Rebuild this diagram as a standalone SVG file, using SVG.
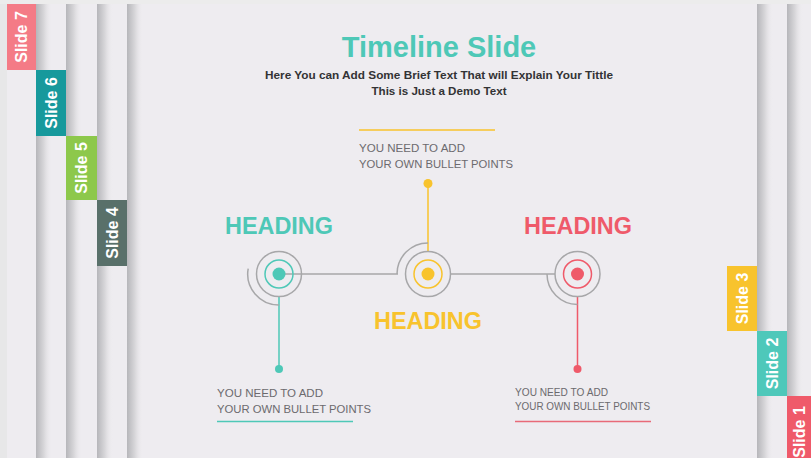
<svg xmlns="http://www.w3.org/2000/svg" width="811" height="458" viewBox="0 0 811 458">
<defs>
<linearGradient id="sh" x1="0" y1="0" x2="1" y2="0">
<stop offset="0" stop-color="#b6b6ba"/>
<stop offset="0.5" stop-color="#d8d7da"/>
<stop offset="1" stop-color="#eeecef" stop-opacity="0"/>
</linearGradient>
<style>
.panel{fill:#eeecf0}
.tabt{font-family:"Liberation Sans",Arial,sans-serif;font-weight:bold;font-size:16px;fill:#ffffff}
.gray{fill:none;stroke:#a7a7a9;stroke-width:1.5}
.head{font-family:"Liberation Sans",Arial,sans-serif;font-weight:bold;font-size:23px}
.bt{font-family:"Liberation Sans",Arial,sans-serif;font-size:11.5px;fill:#6c6a6e}
.sub{font-family:"Liberation Sans",Arial,sans-serif;font-weight:bold;font-size:11.5px;fill:#333335}
</style>
</defs>
<rect width="811" height="458" fill="#e7e7e8"/>
<rect width="811" height="4" fill="#ececec"/>
<g id="panels">
<rect class="panel" x="7" y="4" width="804" height="454"/>
<rect x="36" y="4" width="16" height="454" fill="url(#sh)"/>
<rect x="66" y="4" width="16" height="454" fill="url(#sh)"/>
<rect x="97" y="4" width="16" height="454" fill="url(#sh)"/>
<rect x="127" y="4" width="16" height="454" fill="url(#sh)"/>
<rect class="panel" x="142" y="4" width="615" height="454" fill="#f0eef1"/>
<rect x="757" y="4" width="16" height="454" fill="url(#sh)"/>
<rect x="787" y="4" width="16" height="454" fill="url(#sh)"/>
</g>
<g id="tab7"><rect x="7" y="4" width="29" height="66" fill="#f47b86"/><text class="tabt" transform="translate(27,37) rotate(-90)" text-anchor="middle">Slide 7</text></g>
<g id="tab6"><rect x="36" y="70" width="30" height="66" fill="#17999c"/><text class="tabt" transform="translate(57,103) rotate(-90)" text-anchor="middle">Slide 6</text></g>
<g id="tab5"><rect x="66" y="136" width="31" height="64" fill="#8dc84b"/><text class="tabt" transform="translate(87,168) rotate(-90)" text-anchor="middle">Slide 5</text></g>
<g id="tab4"><rect x="97" y="200" width="30" height="66" fill="#59706a"/><text class="tabt" transform="translate(118,233) rotate(-90)" text-anchor="middle">Slide 4</text></g>
<g id="tab3"><rect x="727" y="266" width="30" height="65" fill="#f8c32d"/><text class="tabt" transform="translate(748,298.5) rotate(-90)" text-anchor="middle">Slide 3</text></g>
<g id="tab2"><rect x="757" y="331" width="30" height="65" fill="#4ec8ba"/><text class="tabt" transform="translate(778,363.5) rotate(-90)" text-anchor="middle">Slide 2</text></g>
<g id="tab1"><rect x="787" y="396" width="24" height="62" fill="#ef5a6a"/><text class="tabt" transform="translate(805,432) rotate(-90)" text-anchor="middle">Slide 1</text></g>
<g id="title">
<text x="439" y="57" text-anchor="middle" font-family="Liberation Sans,Arial,sans-serif" font-weight="bold" font-size="29" fill="#4ec8b7">Timeline Slide</text>
<text class="sub" x="439" y="79" text-anchor="middle" textLength="348" lengthAdjust="spacingAndGlyphs">Here You can Add Some Brief Text That will Explain Your Tittle</text>
<text class="sub" x="439" y="95" text-anchor="middle" textLength="135" lengthAdjust="spacingAndGlyphs">This is Just a Demo Text</text>
</g>
<g id="connectors">
<line x1="285" y1="274" x2="398" y2="274" stroke="#a7a7a9" stroke-width="1.5"/>
<line x1="450" y1="274" x2="555" y2="274" stroke="#a7a7a9" stroke-width="1.5"/>
<line x1="279" y1="296" x2="279" y2="369" stroke="#4ec8b7" stroke-width="1.5"/>
<line x1="428" y1="183" x2="428" y2="252" stroke="#f8c32d" stroke-width="1.5"/>
<line x1="577.5" y1="296" x2="577.5" y2="369" stroke="#ef5a6a" stroke-width="1.5"/>
</g>
<g id="node-teal">
<circle class="gray" cx="279" cy="274" r="22.5"/>
<path class="gray" d="M248.2 268.6 A31 31 0 0 0 279 305"/>
<circle cx="279" cy="274" r="14" fill="none" stroke="#4ec8b7" stroke-width="1.5"/>
<circle cx="279" cy="274" r="6.5" fill="#4ec8b7"/>
<circle cx="279" cy="369" r="4" fill="#4ec8b7"/>
<text class="head" x="225" y="234" fill="#4ec8b7" textLength="108" lengthAdjust="spacingAndGlyphs">HEADING</text>
<text class="bt" x="217" y="397" textLength="106" lengthAdjust="spacingAndGlyphs">YOU NEED TO ADD</text>
<text class="bt" x="217" y="413" textLength="154" lengthAdjust="spacingAndGlyphs">YOUR OWN BULLET POINTS</text>
<line x1="217" y1="421.5" x2="353" y2="421.5" stroke="#4ec8b7" stroke-width="1.5"/>
</g>
<g id="node-yellow">
<circle class="gray" cx="428" cy="274" r="22.5"/>
<path class="gray" d="M397 274 A31 31 0 0 1 428 243"/>
<circle cx="428" cy="274" r="14" fill="none" stroke="#f8c32d" stroke-width="1.5"/>
<circle cx="428" cy="274" r="6.5" fill="#f8c32d"/>
<circle cx="428" cy="183.5" r="4.5" fill="#f8c32d"/>
<text class="head" x="374" y="329" fill="#f8c32d" textLength="108" lengthAdjust="spacingAndGlyphs">HEADING</text>
<line x1="359" y1="130" x2="495" y2="130" stroke="#f8c32d" stroke-width="1.5"/>
<text class="bt" x="359" y="152" textLength="106" lengthAdjust="spacingAndGlyphs">YOU NEED TO ADD</text>
<text class="bt" x="359" y="168" textLength="154" lengthAdjust="spacingAndGlyphs">YOUR OWN BULLET POINTS</text>
</g>
<g id="node-red">
<circle class="gray" cx="577.5" cy="274" r="22.5"/>
<path class="gray" d="M547 274 A30.5 30.5 0 0 0 577.5 304.5"/>
<circle cx="577.5" cy="274" r="14" fill="none" stroke="#ef5a6a" stroke-width="1.5"/>
<circle cx="577.5" cy="274" r="6.5" fill="#ef5a6a"/>
<circle cx="577.5" cy="369" r="4" fill="#ef5a6a"/>
<text class="head" x="524" y="234" fill="#ef5a6a" textLength="108" lengthAdjust="spacingAndGlyphs">HEADING</text>
<text class="bt" x="515" y="396" font-size="10.5" textLength="93" lengthAdjust="spacingAndGlyphs">YOU NEED TO ADD</text>
<text class="bt" x="515" y="410" font-size="10.5" textLength="135" lengthAdjust="spacingAndGlyphs">YOUR OWN BULLET POINTS</text>
<line x1="515" y1="421.5" x2="651" y2="421.5" stroke="#e86a78" stroke-width="1.5"/>
</g>
</svg>
